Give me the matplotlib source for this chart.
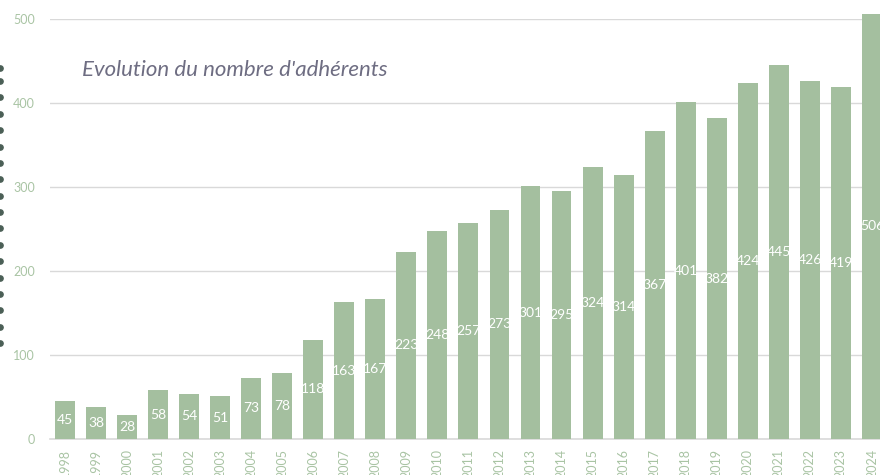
import matplotlib
matplotlib.use("Agg")
import matplotlib.pyplot as plt
import matplotlib.transforms as mtransforms
from matplotlib.lines import Line2D
import numpy as np

years = [str(y) for y in range(1998, 2025)]
members = [45, 38, 28, 58, 54, 51, 73, 78, 118, 163, 167, 223, 248, 257, 273,
           301, 295, 324, 314, 367, 401, 382, 424, 445, 426, 419, 506]
yticks = [0, 100, 200, 300, 400, 500]
title = "Evolution du nombre d'adhérents"

bar_color = "#a4bf9f"
tick_color = "#a9c4a4"
grid_color = "#d9d9d9"
title_color = "#6e6d82"

plt.rcParams['font.family'] = ['Lato', 'DejaVu Sans']

W, H = 880, 475
fig = plt.figure(figsize=(W / 100, H / 100), dpi=100)
ax = fig.add_axes([50 / W, 1 - 439 / H, 1 - 50 / W, (439 - 19) / H])

x = np.arange(len(years))
ax.bar(x, members, width=0.64, color=bar_color, zorder=3, clip_on=False)
for xi, v in zip(x, members):
    ax.text(xi, v / 2, str(v), ha='center', va='center', color='white',
            fontsize=10, zorder=4)

ax.set_xlim(-0.48, len(years) - 1 + 0.26)
ax.set_ylim(0, 500)
ax.set_yticks(yticks)
ax.set_yticklabels([str(t) for t in yticks])
ax.set_xticks(x)
ax.set_xticklabels(years, rotation=90, va='top')
ax.tick_params(axis='y', length=0, pad=11, colors=tick_color, labelsize=9)
ax.tick_params(axis='x', length=0, pad=7, colors=tick_color, labelsize=9)
ax.grid(axis='y', color=grid_color, linewidth=1.0, zorder=0)
for s in ['top', 'right', 'left']:
    ax.spines[s].set_visible(False)
ax.spines['bottom'].set_color(grid_color)
ax.spines['bottom'].set_linewidth(1.2)

ax.text(32 / 830, 432, title,
        transform=mtransforms.blended_transform_factory(ax.transAxes, ax.transData),
        fontsize=16, style='italic', color=title_color, va='baseline', ha='left')

# decorative dotted vertical line at left edge
ys = np.concatenate([[68], np.linspace(81, 343, 17)])
fig.add_artist(Line2D(np.zeros_like(ys), 1 - ys / H, transform=fig.transFigure,
                      linestyle='none', marker='o', markersize=3.8,
                      color='#4b5f56', clip_on=False))

fig.savefig("out.png", dpi=100)
